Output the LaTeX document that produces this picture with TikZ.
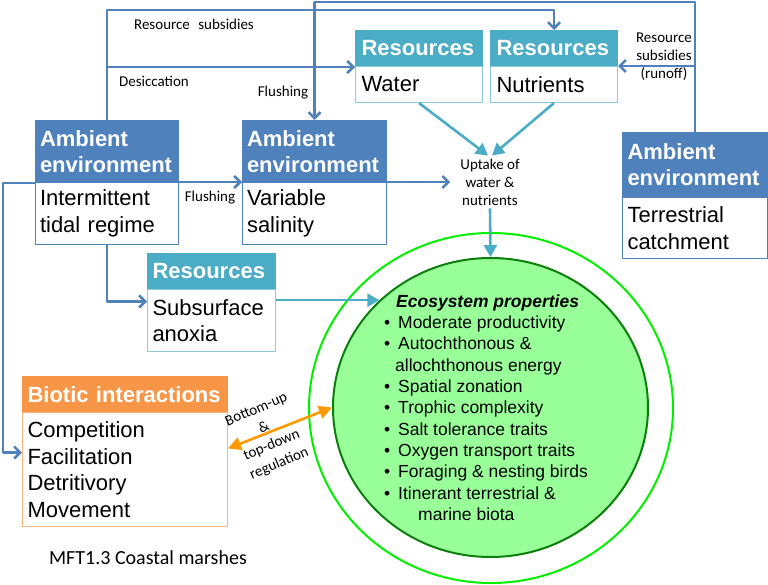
\documentclass[tikz,border=0pt]{standalone}
\usepackage{fontspec}
\setmainfont{Liberation Sans}
\newfontfamily\calfont{Carlito}
\usetikzlibrary{arrows.meta,shapes.geometric}
\definecolor{ambblue}{HTML}{4F81BD}
\definecolor{resteal}{HTML}{4BACC6}
\definecolor{resline}{HTML}{8CCBDD}
\definecolor{bioorange}{HTML}{F79646}
\definecolor{bioline}{HTML}{FAB47F}
\definecolor{arrorange}{HTML}{FF9900}
\definecolor{ecofill}{HTML}{99FF99}
\definecolor{ecoline}{HTML}{0A7F0A}
\definecolor{outerline}{HTML}{00F000}
\begin{document}
\begin{tikzpicture}[x=1pt,y=-1pt,
  boxhdr/.style={anchor=north west, inner xsep=5pt, inner ysep=0pt, align=left, text=white, line width=1pt,
    font=\fontsize{22}{26}\selectfont\bfseries},
  ambhdr/.style={boxhdr, fill=ambblue, draw=ambblue},
  reshdr/.style={boxhdr, fill=resteal, draw=resteal},
  biohdr/.style={boxhdr, fill=bioorange, draw=bioorange},
  boxbody/.style={anchor=north west, inner xsep=5pt, inner ysep=0pt, align=left, fill=white, line width=1pt,
    font=\fontsize{22}{26.5}\selectfont},
  ambbody/.style={boxbody, draw=ambblue},
  resbody/.style={boxbody, draw=resline},
  biobody/.style={boxbody, draw=bioline},
  smalllbl/.style={inner sep=0pt, font=\calfont\fontsize{15}{18}\selectfont},
  barrow/.style={draw=ambblue, line width=2.6pt, line join=round, -{Straight Barb[length=6pt,width=12pt]}},
  tarrow/.style={draw=resteal, line width=2.6pt, -{Triangle[length=12pt,width=13pt]}},
  oarrow/.style={draw=arrorange, line width=2.6pt, {Triangle[length=13pt,width=13pt]}-{Triangle[length=13pt,width=13pt]}}
]
\useasboundingbox (0,0) rectangle (768,585);

% circles
\node[ellipse, draw=outerline, line width=2pt, minimum width=364pt, minimum height=350pt, inner sep=0pt] (outerc) at (491,408) {};
\node[ellipse, draw=ecoline, line width=2pt, fill=ecofill, minimum width=315pt, minimum height=299pt, inner sep=0pt] (ecocirc) at (490.5,407.5) {};

\node[anchor=north west, inner sep=0pt, align=left, font=\fontsize{17.5}{21.3}\selectfont] (ecotext) at (384,294.5) {%
\hspace*{12pt}\textbf{\textit{Ecosystem properties}}\\
\makebox[14pt][l]{•}Moderate productivity\\
\makebox[14pt][l]{•}Autochthonous \&\\
\hspace*{11pt}allochthonous energy\\
\makebox[14pt][l]{•}Spatial zonation\\
\makebox[14pt][l]{•}Trophic complexity\\
\makebox[14pt][l]{•}Salt tolerance traits\\
\makebox[14pt][l]{•}Oxygen transport traits\\
\makebox[14pt][l]{•}Foraging \& nesting birds\\
\makebox[14pt][l]{•}Itinerant terrestrial \&\\
\hspace*{34pt}marine biota};

% boxes
\node[reshdr, minimum width=127pt, minimum height=36pt, text width=115pt, inner xsep=6pt] (wath) at (355,30) {Resources};
\node[resbody, minimum width=127pt, minimum height=36pt, text width=115pt, inner xsep=6pt] (watb) at (355,66) {Water};
\node[reshdr, minimum width=127pt, minimum height=36pt, text width=115pt, inner xsep=6pt] (nuth) at (490,30) {Resources};
\node[resbody, minimum width=127pt, minimum height=36pt, text width=115pt, inner xsep=6pt] (nutb) at (490,66) {Nutrients};

\node[ambhdr, minimum width=143pt, minimum height=62pt, text width=134pt, inner xsep=4.5pt] (a1h) at (35,120) {Ambient\\environment};
\node[ambbody, minimum width=143pt, minimum height=62pt, text width=134pt, inner xsep=4.5pt] (a1b) at (35,182) {Intermittent\\tidal regime};
\node[ambhdr, minimum width=144pt, minimum height=62pt, text width=135pt, inner xsep=4.5pt] (a2h) at (242,120) {Ambient\\environment};
\node[ambbody, minimum width=144pt, minimum height=62pt, text width=135pt, inner xsep=4.5pt] (a2b) at (242,182) {Variable\\salinity};
\node[ambhdr, minimum width=145pt, minimum height=65pt, text width=135pt] (terh) at (622,132) {Ambient\\environment};
\node[ambbody, minimum width=145pt, minimum height=61pt, text width=135pt] (terb) at (622,197) {Terrestrial\\catchment};

\node[reshdr, minimum width=128pt, minimum height=36pt, text width=118pt] (subh) at (147,253) {Resources};
\node[resbody, minimum width=128pt, minimum height=62pt, text width=118pt] (subb) at (147,289) {Subsurface\\anoxia};

\node[biohdr, minimum width=205pt, minimum height=36pt, text width=195pt] (bioh) at (22,376) {Biotic interactions};
\node[biobody, minimum width=205pt, minimum height=114pt, text width=195pt] (biob) at (22,412) {Competition\\Facilitation\\Detritivory\\Movement};

% labels
\node[smalllbl, align=center, inner xsep=10pt, inner ysep=3pt] (uptake) at (490,182) {Uptake of\\water \&\\nutrients};
\node[smalllbl] (lblrs) at (194,24) {Resource\hspace{5pt} subsidies};
\node[smalllbl] (lbldes) at (154,81) {Desiccation};
\node[smalllbl] (lblfl1) at (283,93) {Flushing};
\node[smalllbl] (lblfl2) at (210,198) {Flushing};
\node[smalllbl, align=center] (lblrun) at (664,57) {Resource\\subsidies\\(runoff)};
\node[smalllbl, align=center, rotate=23, font=\calfont\fontsize{15}{19.5}\selectfont] (lblreg) at (268,437) {Bottom-up\\\&\\top-down\\regulation};
\node[inner sep=0pt, font=\calfont\fontsize{20}{24}\selectfont] (caption) at (148,558) {MFT1.3 Coastal marshes};

% connectors
\coordinate (rsturn) at (330,10);
\coordinate (flturn) at (500,2);
\coordinate (leftturn) at (3,300);
\draw[barrow] (a1h.north) |- (rsturn) -| (nuth.north);
\draw[barrow] (a1h.north |- wath.south west) -- (wath.south west);
\draw[barrow] (terh.north) |- (flturn) -| (a2h.north);
\draw[barrow] (terh.north |- nutb.north east) -- (nutb.north east);
\draw[barrow] (a1b.north east) -- (a2b.north west);
\draw[barrow] (a2b.north east) -- (uptake.west);
\draw[tarrow] (watb.south) -- ([xshift=-2pt]uptake.north);
\draw[tarrow] (nutb.south) -- ([xshift=2pt]uptake.north);
\draw[tarrow] (uptake.south) -- (ecocirc.north);
\draw[barrow] (a1h.south west) -| (leftturn) |- ([yshift=17pt]biob.west);
\draw[barrow] (a1b.south) |- ([yshift=19pt]subb.west);
\draw[tarrow] (subb.east |- ecocirc.136) -- (ecocirc.136);
\draw[oarrow] ([yshift=21pt]biob.east) -- (ecocirc.west);
\end{tikzpicture}
\end{document}
